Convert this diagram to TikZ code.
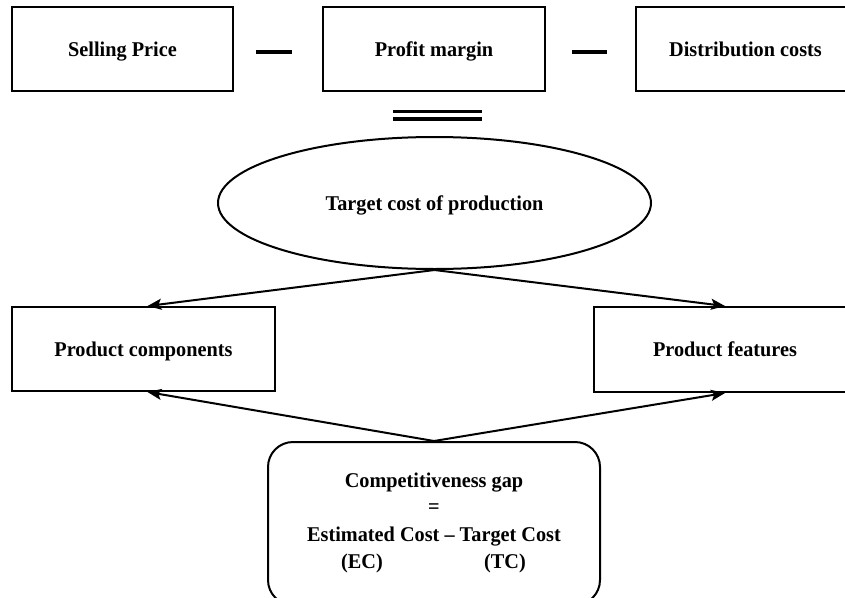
\documentclass[tikz,border=0pt]{standalone}
\usepackage{fontspec}
\setmainfont{Liberation Serif}[FakeStretch=0.965]
\usetikzlibrary{shapes.geometric,arrows.meta}
\begin{document}
\begin{tikzpicture}[x=1pt,y=-1pt,
  box/.style={draw, line width=2pt, inner sep=0pt, text depth=0pt, font=\fontsize{21}{24}\selectfont\bfseries},
  lbl/.style={inner sep=0pt, text depth=0pt, font=\fontsize{21}{24}\selectfont\bfseries},
  arr/.style={line width=2pt, -{Stealth[length=14pt,width=11pt,inset=3pt]}},
  bar/.style={line width=3.2pt}]
\useasboundingbox (0,0) rectangle (845,597);
% top row
\node[box, minimum width=221pt, minimum height=84pt] (sp) at (122.5,49) {Selling Price};
\node[box, minimum width=222pt, minimum height=84pt] (pm) at (434,49) {Profit margin};
\node[box, minimum width=219pt, minimum height=84pt] (dc) at (745.5,49) {Distribution costs};
% minus signs
\coordinate (m1a) at (256,52); \coordinate (m1b) at (292,52);
\coordinate (m2a) at (572,52); \coordinate (m2b) at (607,52);
\draw[bar] (m1a) -- (m1b);
\draw[bar] (m2a) -- (m2b);
% equals sign
\coordinate (e1a) at (393,111.5); \coordinate (e1b) at (482,111.5);
\coordinate (e2a) at (393,119); \coordinate (e2b) at (482,119);
\draw[bar] (e1a) -- (e1b);
\draw[bar] (e2a) -- (e2b);
% ellipse
\node[box, ellipse, minimum width=433pt, minimum height=132pt] (tc) at (434.5,203) {Target cost of production};
% middle boxes
\node[box, minimum width=263pt, minimum height=84pt] (pc) at (143.5,349) {Product components};
\node[box, minimum width=262pt, minimum height=85pt] (pf) at (725,349.5) {Product features};
% gap box
\node[draw, line width=2pt, rounded corners=25pt, minimum width=332pt, minimum height=163pt, inner sep=0pt] (gap) at (434,523.5) {};
\node[lbl] (g1) at (434,480.5) {Competitiveness gap};
\node[lbl] (g2) at (434,509) {=};
\node[lbl] (g3) at (434,534.5) {Estimated Cost – Target Cost};
\node[lbl] (g4) at (362,561) {(EC)};
\node[lbl] (g5) at (505,561) {(TC)};
% arrows
\draw[arr] (tc.south) -- ([xshift=4pt]pc.north);
\draw[arr] (tc.south) -- (pf.north);
\draw[arr] (gap.north) -- ([xshift=4pt]pc.south);
\draw[arr] (gap.north) -- (pf.south);
\end{tikzpicture}
\end{document}
